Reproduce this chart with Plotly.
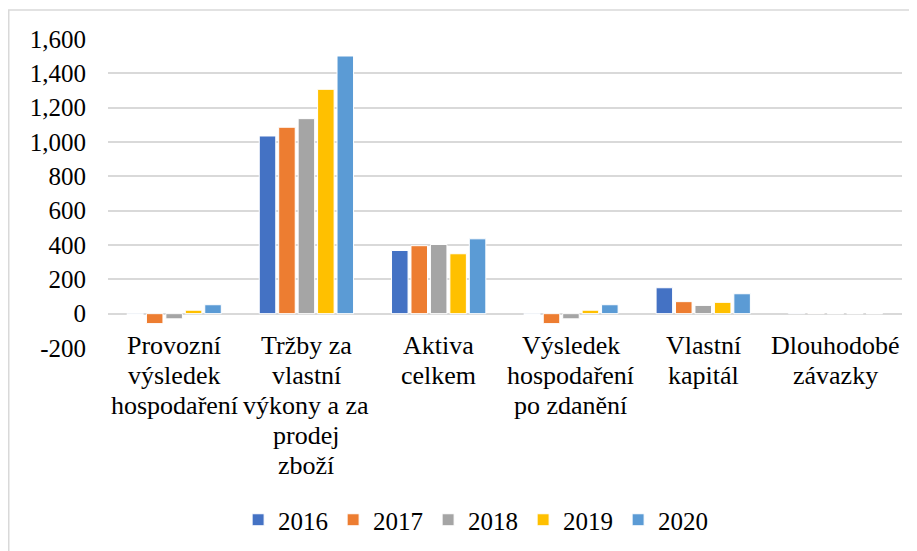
import plotly.graph_objects as go

categories = ["Provozní<br>výsledek<br>hospodaření",
              "Tržby za<br>vlastní<br>výkony a za<br>prodej<br>zboží",
              "Aktiva<br>celkem",
              "Výsledek<br>hospodaření<br>po zdanění",
              "Vlastní<br>kapitál",
              "Dlouhodobé<br>závazky"]
cat_keys = ["Provozní", "Tržby", "Aktiva", "Výsledek", "Vlastní", "Dlouhodobé"]

years = ["2016", "2017", "2018", "2019", "2020"]
v2016 = [-5, 1035, 368, -5, 151, 3]
v2017 = [-58, 1086, 396, -58, 70, 2]
v2018 = [-30, 1136, 403, -30, 48, 0]
v2019 = [20, 1307, 349, 20, 66, 0]
v2020 = [52, 1501, 436, 52, 116, 0]
series = [v2016, v2017, v2018, v2019, v2020]
colors = ["#4472C4", "#ED7D31", "#A5A5A5", "#FFC000", "#5B9BD5"]

y_ticks = [-200, 0, 200, 400, 600, 800, 1000, 1200, 1400, 1600]
y_tick_text = ["-200", "0", "200", "400", "600", "800", "1,000", "1,200", "1,400", "1,600"]

FONT = "Liberation Serif"

fig = go.Figure()
for yr, vals, col in zip(years, series, colors):
    fig.add_trace(go.Bar(x=cat_keys, y=vals, name=yr,
                         marker=dict(color=col, line=dict(color="white", width=1))))

# category labels, one annotation per line for tight (Excel-like) line spacing
for key, lab in zip(cat_keys, categories):
    for i, line in enumerate(lab.split("<br>")):
        fig.add_annotation(x=key, y=0, xref="x", yref="y", text=line, showarrow=False,
                           yanchor="middle", yshift=-(32 + 30 * i),
                           font=dict(family=FONT, size=26, color="black"))

W, H = 909, 543
L, R, T, B = 100, 15, 31, 203
pw, ph = W - L - R, H - T - B
fig.add_shape(type="rect", xref="paper", yref="paper",
              x0=(0.75 - L) / pw, x1=(W + 20 - L) / pw,
              y0=(H - B - H - 20) / ph, y1=(H - B - 2) / ph,
              line=dict(color="#D9D9D9", width=1.5), fillcolor="rgba(0,0,0,0)", layer="below")

fig.update_layout(
    width=W, height=H,
    margin=dict(l=L, r=R, t=T, b=B, autoexpand=False),
    paper_bgcolor="white", plot_bgcolor="white",
    barmode="group", bargap=0.265, bargroupgap=0.15,
    font=dict(family=FONT, size=25, color="black"),
    legend=dict(orientation="h", x=0.463, xanchor="center", y=(H - B - 512) / ph, yanchor="middle",
                font=dict(family=FONT, size=25, color="black"), traceorder="normal",
                entrywidth=50, entrywidthmode="pixels"),
    showlegend=True,
)
fig.update_xaxes(showticklabels=False, showgrid=False, showline=False, zeroline=False)
fig.update_yaxes(range=[-200, 1600], tickvals=y_ticks, ticktext=y_tick_text,
                 showgrid=True, gridcolor="#D9D9D9", gridwidth=2,
                 zeroline=False, showline=False, automargin=False,
                 ticks="outside", ticklen=16, tickcolor="rgba(0,0,0,0)",
                 tickfont=dict(family=FONT, size=25, color="black"))

fig.write_html("out.html")
